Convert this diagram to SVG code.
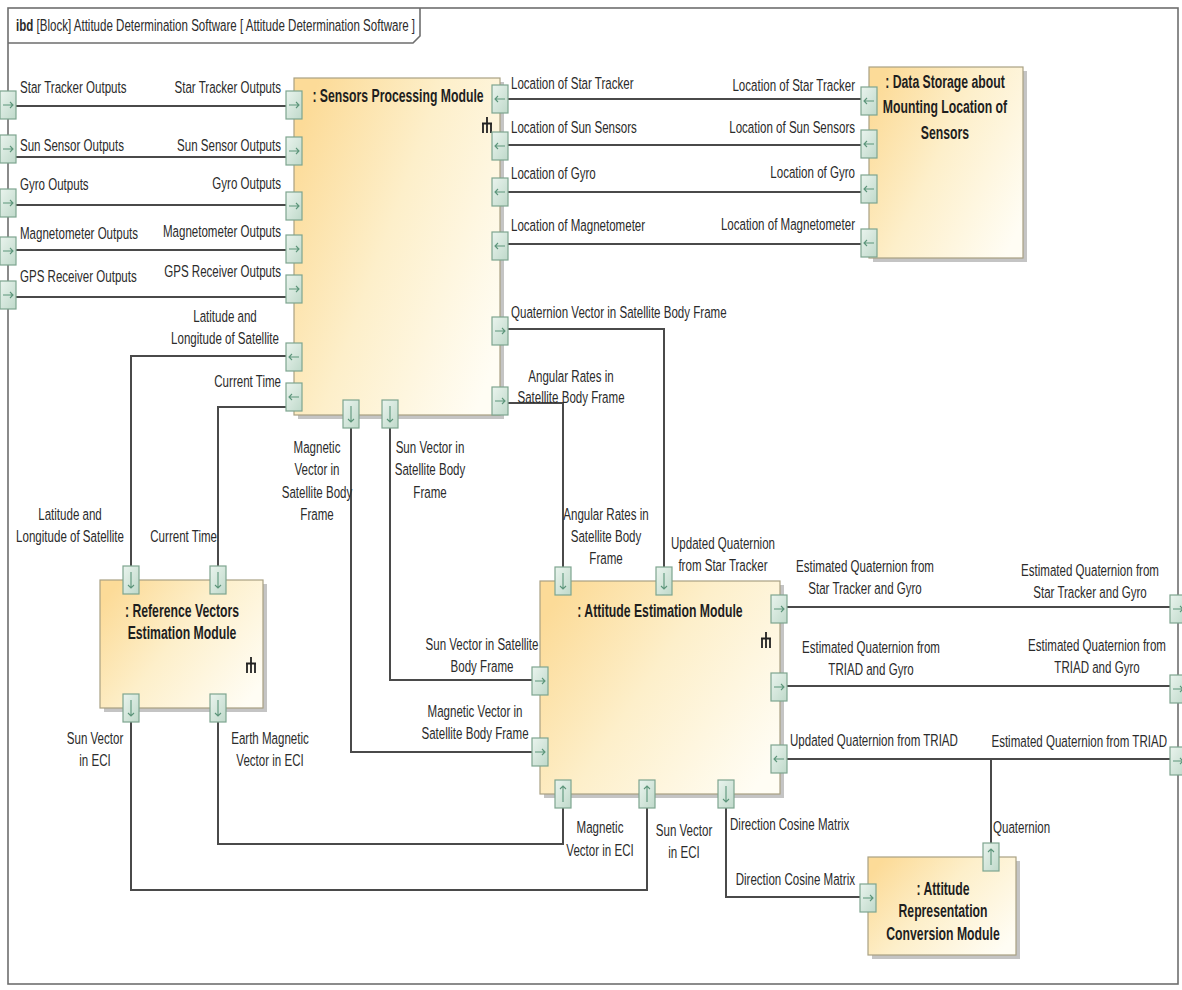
<svg xmlns="http://www.w3.org/2000/svg" xmlns:xlink="http://www.w3.org/1999/xlink" width="1182" height="990" viewBox="0 0 1182 990">
<style>
.f{fill:none;stroke:#6e6e6e;stroke-width:1.6}
.c{fill:none;stroke:#4a4a4a;stroke-width:2}
.blk{fill:url(#bg);stroke:#a9a183;stroke-width:1.2}
.sh{fill:#9c9c9c;opacity:.6}
.pt{fill:url(#pg);stroke:#7ea58f;stroke-width:1.2}
.pa{fill:none;stroke:#5c957a;stroke-width:1.1}
.own{fill:none;stroke:#222;stroke-width:1.8}
.t{font-family:"Liberation Sans",Arial,sans-serif;font-size:17px;fill:#2b2b2b}
.b{font-weight:bold;font-size:18px;fill:#1e1e1e}
.e{text-anchor:end}
.m{text-anchor:middle}
</style>
<defs>
<linearGradient id="bg" x1="0" y1="0.2" x2="1" y2="0.8">
<stop offset="0" stop-color="#fcdb98"/>
<stop offset="0.45" stop-color="#fdefca"/>
<stop offset="1" stop-color="#fffdf4"/>
</linearGradient>
<linearGradient id="pg" x1="0" y1="0" x2="1" y2="1">
<stop offset="0" stop-color="#eaf4ee"/>
<stop offset="1" stop-color="#bfd9ca"/>
</linearGradient>
<!-- ports: 16x28, origin at top-left -->
<g id="pr"><rect class="pt" width="16" height="28"/><path class="pa" d="M3 14H13M10 11L13 14L10 17"/></g>
<g id="pl"><rect class="pt" width="16" height="28"/><path class="pa" d="M13 14H3M6 11L3 14L6 17"/></g>
<g id="pd"><rect class="pt" width="16" height="28"/><path class="pa" d="M8 6V22M5 19L8 22L11 19"/></g>
<g id="pu"><rect class="pt" width="16" height="28"/><path class="pa" d="M8 22V6M5 9L8 6L11 9"/></g>
<!-- part-property ownership mark, origin at the bar centre -->
<path id="own" class="own" d="M0 -6V0M-5 0.5H5M-4 0V10M0 0V10M4 0V10"/>
</defs>

<rect width="1182" height="990" fill="#ffffff"/>

<!-- diagram frame -->
<g id="frame">
<rect class="f" x="8" y="8" width="1170" height="976"/>
<path class="f" d="M8 43H413L420 36V8"/>
<text class="t" transform="matrix(.68 0 0 1 16 31)"><tspan font-weight="bold">ibd</tspan> [Block] Attitude Determination Software [ Attitude Determination Software ]</text>
</g>

<!-- connectors -->
<g id="connectors">
<path class="c" d="M16 106H286"/>
<path class="c" d="M16 157H286"/>
<path class="c" d="M16 205H286"/>
<path class="c" d="M16 250H286"/>
<path class="c" d="M16 297H286"/>
<path class="c" d="M286 356H131V566"/>
<path class="c" d="M286 407H218V566"/>
<path class="c" d="M508 99H861"/>
<path class="c" d="M508 145H861"/>
<path class="c" d="M508 192H861"/>
<path class="c" d="M508 244H861"/>
<path class="c" d="M508 329H664V567"/>
<path class="c" d="M508 403H563V567"/>
<path class="c" d="M351 428V752H532"/>
<path class="c" d="M390 428V680H532"/>
<path class="c" d="M563 808V844H218V722"/>
<path class="c" d="M647 808V890H131V722"/>
<path class="c" d="M726 808V897H860"/>
<path class="c" d="M787 607H1170"/>
<path class="c" d="M787 686H1170"/>
<path class="c" d="M787 759H1170"/>
<path class="c" d="M991 843V759"/>
</g>

<!-- boundary ports of the frame -->
<g id="frame-ports">
<use xlink:href="#pr" x="0" y="91"/>
<use xlink:href="#pr" x="0" y="135"/>
<use xlink:href="#pr" x="0" y="189"/>
<use xlink:href="#pr" x="0" y="237"/>
<use xlink:href="#pr" x="0" y="281"/>
<use xlink:href="#pr" x="1170" y="595"/>
<use xlink:href="#pr" x="1170" y="675"/>
<use xlink:href="#pr" x="1170" y="747"/>
<text class="t" transform="matrix(.68 0 0 1 20 93)">Star Tracker Outputs</text>
<text class="t" transform="matrix(.68 0 0 1 20 151)">Sun Sensor Outputs</text>
<text class="t" transform="matrix(.68 0 0 1 20 190)">Gyro Outputs</text>
<text class="t" transform="matrix(.68 0 0 1 20 239)">Magnetometer Outputs</text>
<text class="t" transform="matrix(.68 0 0 1 20 282)">GPS Receiver Outputs</text>
<text class="t m" transform="matrix(.68 0 0 1 1090 576)"><tspan x="0">Estimated Quaternion from</tspan><tspan x="0" dy="22">Star Tracker and Gyro</tspan></text>
<text class="t m" transform="matrix(.68 0 0 1 1097 651)"><tspan x="0">Estimated Quaternion from</tspan><tspan x="0" dy="22">TRIAD and Gyro</tspan></text>
<text class="t e" transform="matrix(.68 0 0 1 1167 747)">Estimated Quaternion from TRIAD</text>
</g>

<!-- Sensors Processing Module -->
<g id="sensors-processing">
<rect class="sh" x="298" y="82" width="206" height="337"/>
<rect class="blk" x="294" y="78" width="206" height="337"/>
<text class="t b m" transform="matrix(.68 0 0 1 398 102)">: Sensors Processing Module</text>
<use xlink:href="#own" x="487" y="123"/>
<use xlink:href="#pr" x="286" y="91"/>
<use xlink:href="#pr" x="286" y="137"/>
<use xlink:href="#pr" x="286" y="192"/>
<use xlink:href="#pr" x="286" y="235"/>
<use xlink:href="#pr" x="286" y="275"/>
<use xlink:href="#pl" x="286" y="343"/>
<use xlink:href="#pl" x="286" y="383"/>
<use xlink:href="#pl" x="492" y="85"/>
<use xlink:href="#pl" x="492" y="132"/>
<use xlink:href="#pl" x="492" y="178"/>
<use xlink:href="#pl" x="492" y="232"/>
<use xlink:href="#pr" x="492" y="317"/>
<use xlink:href="#pr" x="492" y="387"/>
<use xlink:href="#pd" x="343" y="400"/>
<use xlink:href="#pd" x="382" y="400"/>
<text class="t e" transform="matrix(.68 0 0 1 281 93)">Star Tracker Outputs</text>
<text class="t e" transform="matrix(.68 0 0 1 281 151)">Sun Sensor Outputs</text>
<text class="t e" transform="matrix(.68 0 0 1 281 189)">Gyro Outputs</text>
<text class="t e" transform="matrix(.68 0 0 1 281 237)">Magnetometer Outputs</text>
<text class="t e" transform="matrix(.68 0 0 1 281 277)">GPS Receiver Outputs</text>
<text class="t m" transform="matrix(.68 0 0 1 225 322)"><tspan x="0">Latitude and</tspan><tspan x="0" dy="22">Longitude of Satellite</tspan></text>
<text class="t e" transform="matrix(.68 0 0 1 281 387)">Current Time</text>
<text class="t" transform="matrix(.68 0 0 1 511 89)">Location of Star Tracker</text>
<text class="t" transform="matrix(.68 0 0 1 511 133)">Location of Sun Sensors</text>
<text class="t" transform="matrix(.68 0 0 1 511 179)">Location of Gyro</text>
<text class="t" transform="matrix(.68 0 0 1 511 231)">Location of Magnetometer</text>
<text class="t" transform="matrix(.68 0 0 1 511 318)">Quaternion Vector in Satellite Body Frame</text>
<text class="t m" transform="matrix(.68 0 0 1 571 382)"><tspan x="0">Angular Rates in</tspan><tspan x="0" dy="21">Satellite Body Frame</tspan></text>
<text class="t m" transform="matrix(.68 0 0 1 317 453)"><tspan x="0">Magnetic</tspan><tspan x="0" dy="22.5">Vector in</tspan><tspan x="0" dy="22.5">Satellite Body</tspan><tspan x="0" dy="22.5">Frame</tspan></text>
<text class="t m" transform="matrix(.68 0 0 1 430 453)"><tspan x="0">Sun Vector in</tspan><tspan x="0" dy="22.5">Satellite Body</tspan><tspan x="0" dy="22.5">Frame</tspan></text>
</g>

<!-- Data Storage about Mounting Location of Sensors -->
<g id="data-storage">
<rect class="sh" x="873" y="71" width="154" height="191"/>
<rect class="blk" x="869" y="67" width="154" height="191"/>
<text class="t b m" transform="matrix(.68 0 0 1 945 88)"><tspan x="0">: Data Storage about</tspan><tspan x="0" dy="25.5">Mounting Location of</tspan><tspan x="0" dy="25.5">Sensors</tspan></text>
<use xlink:href="#pl" x="861" y="87"/>
<use xlink:href="#pl" x="861" y="130"/>
<use xlink:href="#pl" x="861" y="175"/>
<use xlink:href="#pl" x="861" y="229"/>
<text class="t e" transform="matrix(.68 0 0 1 855 91)">Location of Star Tracker</text>
<text class="t e" transform="matrix(.68 0 0 1 855 133)">Location of Sun Sensors</text>
<text class="t e" transform="matrix(.68 0 0 1 855 178)">Location of Gyro</text>
<text class="t e" transform="matrix(.68 0 0 1 855 230)">Location of Magnetometer</text>
</g>

<!-- Reference Vectors Estimation Module -->
<g id="reference-vectors">
<rect class="sh" x="104" y="584" width="163" height="128"/>
<rect class="blk" x="100" y="580" width="163" height="128"/>
<text class="t b m" transform="matrix(.68 0 0 1 182 617)"><tspan x="0">: Reference Vectors</tspan><tspan x="0" dy="22">Estimation Module</tspan></text>
<use xlink:href="#own" x="251" y="663"/>
<use xlink:href="#pd" x="123" y="566"/>
<use xlink:href="#pd" x="210" y="566"/>
<use xlink:href="#pd" x="123" y="694"/>
<use xlink:href="#pd" x="210" y="694"/>
<text class="t m" transform="matrix(.68 0 0 1 70 520)"><tspan x="0">Latitude and</tspan><tspan x="0" dy="22">Longitude of Satellite</tspan></text>
<text class="t e" transform="matrix(.68 0 0 1 217 542)">Current Time</text>
<text class="t m" transform="matrix(.68 0 0 1 95 744)"><tspan x="0">Sun Vector</tspan><tspan x="0" dy="22">in ECI</tspan></text>
<text class="t m" transform="matrix(.68 0 0 1 270 744)"><tspan x="0">Earth Magnetic</tspan><tspan x="0" dy="22">Vector in ECI</tspan></text>
</g>

<!-- Attitude Estimation Module -->
<g id="attitude-estimation">
<rect class="sh" x="544" y="585" width="240" height="213"/>
<rect class="blk" x="540" y="581" width="240" height="213"/>
<text class="t b m" transform="matrix(.68 0 0 1 660 617)">: Attitude Estimation Module</text>
<use xlink:href="#own" x="766" y="638"/>
<use xlink:href="#pd" x="555" y="567"/>
<use xlink:href="#pd" x="656" y="567"/>
<use xlink:href="#pr" x="532" y="667"/>
<use xlink:href="#pr" x="532" y="738"/>
<use xlink:href="#pr" x="771" y="595"/>
<use xlink:href="#pr" x="771" y="673"/>
<use xlink:href="#pl" x="771" y="745"/>
<use xlink:href="#pu" x="555" y="780"/>
<use xlink:href="#pu" x="639" y="780"/>
<use xlink:href="#pd" x="718" y="780"/>
<text class="t m" transform="matrix(.68 0 0 1 606 520)"><tspan x="0">Angular Rates in</tspan><tspan x="0" dy="22">Satellite Body</tspan><tspan x="0" dy="22">Frame</tspan></text>
<text class="t m" transform="matrix(.68 0 0 1 723 549)"><tspan x="0">Updated Quaternion</tspan><tspan x="0" dy="22">from Star Tracker</tspan></text>
<text class="t m" transform="matrix(.68 0 0 1 482 650)"><tspan x="0">Sun Vector in Satellite</tspan><tspan x="0" dy="22">Body Frame</tspan></text>
<text class="t m" transform="matrix(.68 0 0 1 475 717)"><tspan x="0">Magnetic Vector in</tspan><tspan x="0" dy="22">Satellite Body Frame</tspan></text>
<text class="t m" transform="matrix(.68 0 0 1 865 572)"><tspan x="0">Estimated Quaternion from</tspan><tspan x="0" dy="22">Star Tracker and Gyro</tspan></text>
<text class="t m" transform="matrix(.68 0 0 1 871 653)"><tspan x="0">Estimated Quaternion from</tspan><tspan x="0" dy="22">TRIAD and Gyro</tspan></text>
<text class="t" transform="matrix(.68 0 0 1 790 746)">Updated Quaternion from TRIAD</text>
<text class="t m" transform="matrix(.68 0 0 1 600 833)"><tspan x="0">Magnetic</tspan><tspan x="0" dy="23">Vector in ECI</tspan></text>
<text class="t m" transform="matrix(.68 0 0 1 684 836)"><tspan x="0">Sun Vector</tspan><tspan x="0" dy="22">in ECI</tspan></text>
<text class="t" transform="matrix(.68 0 0 1 730 830)">Direction Cosine Matrix</text>
</g>

<!-- Attitude Representation Conversion Module -->
<g id="attitude-representation">
<rect class="sh" x="872" y="861" width="148" height="98"/>
<rect class="blk" x="868" y="857" width="148" height="98"/>
<text class="t b m" transform="matrix(.68 0 0 1 943 895)"><tspan x="0">: Attitude</tspan><tspan x="0" dy="22.5">Representation</tspan><tspan x="0" dy="22.5">Conversion Module</tspan></text>
<use xlink:href="#pr" x="860" y="884"/>
<use xlink:href="#pu" x="983" y="843"/>
<text class="t e" transform="matrix(.68 0 0 1 855 885)">Direction Cosine Matrix</text>
<text class="t" transform="matrix(.68 0 0 1 993 833)">Quaternion</text>
</g>
</svg>
